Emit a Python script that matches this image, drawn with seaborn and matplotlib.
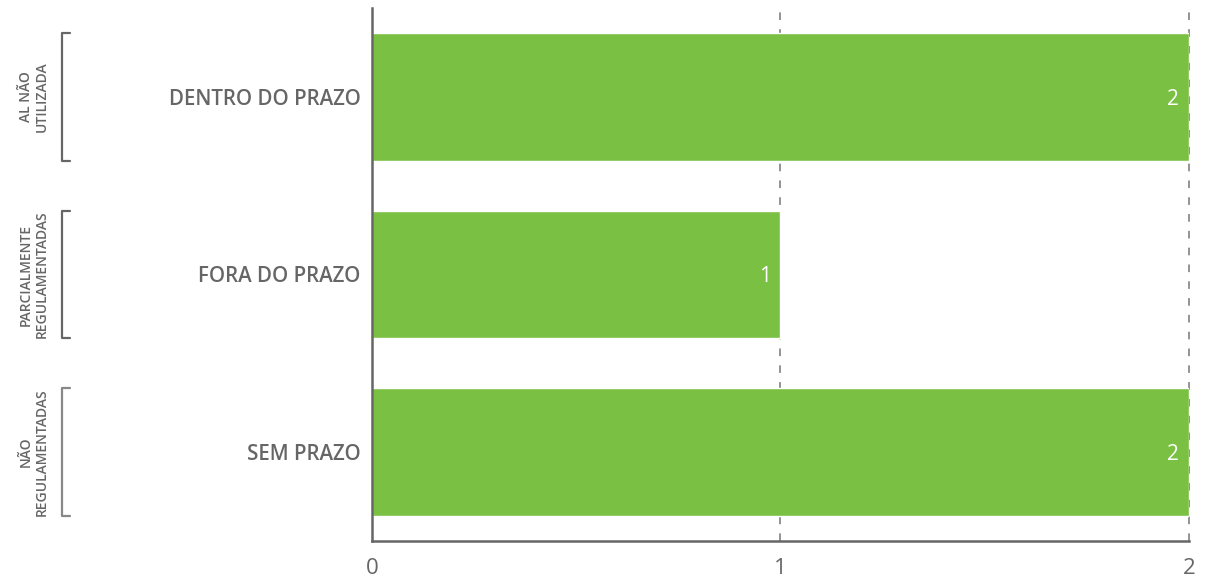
import matplotlib
matplotlib.use('Agg')
import matplotlib.pyplot as plt
import seaborn as sns
from pandas import DataFrame

categorias = ['DENTRO DO PRAZO', 'FORA DO PRAZO', 'SEM PRAZO']
valores = [2, 1, 2]
grupos = ['AL NÃO\nUTILIZADA', 'PARCIALMENTE\nREGULAMENTADAS', 'NÃO\nREGULAMENTADAS']
ticks_x = [0, 1, 2]

VERDE = '#7ac143'
CINZA = '#666666'

sns.set_style('white')
plt.rcParams['font.family'] = ['Open Sans', 'DejaVu Sans']

df = DataFrame({'categoria': categorias, 'valor': valores})

fig = plt.figure(figsize=(12.05, 5.87), dpi=100)
ax = fig.add_axes([0.3087, 0.0784, 0.678, 0.908])

sns.barplot(data=df, x='valor', y='categoria', orient='h', color=VERDE,
            saturation=1, width=0.72, ax=ax)

ax.set_xlim(0, 2)
ax.set_ylim(2.5, -0.5)
ax.set_xticks(ticks_x)
ax.set_xlabel('')
ax.set_ylabel('')

for x in ticks_x[1:]:
    ax.axvline(x, color='#777777', lw=1.1, ls=(0, (5, 6)), zorder=0,
               clip_on=False)

for s in ['top', 'right']:
    ax.spines[s].set_visible(False)
for s in ['left', 'bottom']:
    ax.spines[s].set_color(CINZA)
    ax.spines[s].set_linewidth(1.8)
ax.spines['left'].set_zorder(5)

ax.tick_params(axis='both', length=0)
ax.tick_params(axis='x', pad=12, labelsize=16, labelcolor=CINZA)
ax.tick_params(axis='y', pad=8, labelsize=14.8, labelcolor=CINZA)
for lbl in ax.get_yticklabels():
    lbl.set_fontweight('semibold')

# rótulos de valor dentro das barras
for i, v in enumerate(valores):
    ax.annotate(str(v), xy=(v, i), xytext=(-7, 0), textcoords='offset points',
                ha='right', va='center_baseline', color='white', fontsize=15)

# colchetes e rótulos de grupo à esquerda
trans = ax.get_yaxis_transform()
x_linha = (62 - 372) / 817
x_ponta = (70 - 372) / 817
x_texto = (34 - 372) / 817
for i, g in enumerate(grupos):
    y0, y1 = i - 0.36, i + 0.36
    cor = CINZA if i < 2 else '#888888'
    ax.plot([x_ponta, x_linha, x_linha, x_ponta], [y0, y0, y1, y1],
            transform=trans, clip_on=False, color=cor, lw=1.6)
    ax.text(x_texto, i, g, transform=trans, rotation=90, ha='center',
            va='center', fontsize=10, color=CINZA, linespacing=1.2,
            fontweight='semibold')

fig.savefig('out.png', dpi=100)
